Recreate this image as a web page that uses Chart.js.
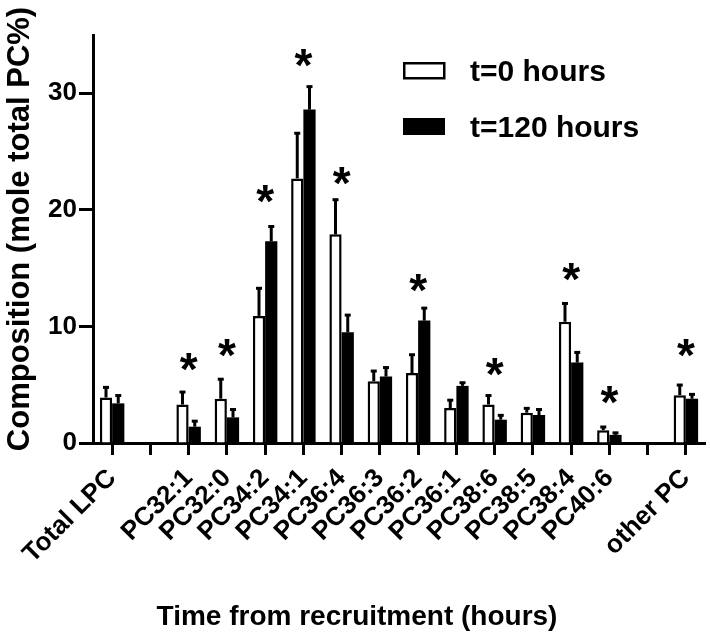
<!DOCTYPE html>
<html>
<head>
<meta charset="utf-8">
<script src="https://cdn.jsdelivr.net/npm/chart.js@4.4.1/dist/chart.umd.min.js"></script>
<style>
  body { margin: 0; background: #fff; }
  #wrap { width: 710px; height: 637px; position: relative; }
</style>
</head>
<body>
<div id="wrap"><canvas id="chart"></canvas></div>
<script>
// categories ('' = empty slot on the axis)
const categories = ['Total LPC', '', 'PC32:1', 'PC32:0', 'PC34:2', 'PC34:1', 'PC36:4', 'PC36:3',
    'PC36:2', 'PC36:1', 'PC38:6', 'PC38:5', 'PC38:4', 'PC40:6', '', 'other PC'];

// t=0 hours
const t0Values = [3.9, null, 3.3, 3.8, 10.9, 22.7, 17.9, 5.3, 6.0, 3.0, 3.3, 2.6, 10.4, 1.1, null, 4.1];
const t0Errors = [1.0, null, 1.2, 1.8, 2.5, 4.0, 3.1, 1.0, 1.7, 0.8, 0.9, 0.5, 1.7, 0.4, null, 1.0];

// t=120 hours
const t120Values = [3.4, null, 1.4, 2.2, 17.3, 28.6, 9.5, 5.7, 10.5, 4.9, 2.0, 2.4, 6.9, 0.7, null, 3.8];
const t120Errors = [0.8, null, 0.6, 0.8, 1.4, 2.1, 1.6, 0.9, 1.2, 0.4, 0.5, 0.6, 1.0, 0.3, null, 0.5];

// significance marks (y value of the asterisk centre)
const starLevels = [null, null, 6.95, 8.15, 21.4, 33.0, 22.9, null, 13.75, null, 6.55, null, 14.7, 4.1, null, 8.15];

const yTicks = [0, 10, 20, 30];

const FONT = "'Liberation Sans', Arial, sans-serif";

// error bars, asterisks, legend and axis titles
const extras = {
    id: 'extras',
    afterDatasetsDraw(chart) {
        const ctx = chart.ctx;
        const y = chart.scales.y;
        const x = chart.scales.x;
        ctx.save();
        ctx.strokeStyle = '#000';
        ctx.fillStyle = '#000';

        [[0, t0Errors], [1, t120Errors]].forEach(([di, errs]) => {
            const meta = chart.getDatasetMeta(di);
            const vals = chart.data.datasets[di].data;
            meta.data.forEach((bar, i) => {
                if (errs[i] == null || vals[i] == null) return;
                const top = y.getPixelForValue(vals[i] + errs[i]);
                ctx.lineWidth = 3;
                ctx.beginPath();
                ctx.moveTo(bar.x, bar.y);
                ctx.lineTo(bar.x, top + 1);
                ctx.stroke();
                ctx.fillRect(bar.x - 3, top, 6, 3);
            });
        });

        // asterisks
        ctx.font = 'bold 46px ' + FONT;
        ctx.textAlign = 'center';
        ctx.textBaseline = 'alphabetic';
        const m = ctx.measureText('*');
        const off = (m.actualBoundingBoxAscent - m.actualBoundingBoxDescent) / 2;
        starLevels.forEach((v, i) => {
            if (v == null) return;
            ctx.fillText('*', x.getPixelForValue(i), y.getPixelForValue(v) + off);
        });

        // legend
        ctx.lineWidth = 2.5;
        ctx.fillStyle = '#fff';
        ctx.fillRect(404, 63, 40, 15);
        ctx.strokeRect(404.25, 63.25, 40, 15);
        ctx.fillStyle = '#000';
        ctx.fillRect(403, 118, 42, 17);
        ctx.font = 'bold 30px ' + FONT;
        ctx.textAlign = 'left';
        ctx.fillText('t=0 hours', 470, 81);
        ctx.fillText('t=120 hours', 470, 137);

        // axis titles
        ctx.textAlign = 'center';
        ctx.font = 'bold 28px ' + FONT;
        ctx.fillText('Time from recruitment (hours)', 357, 625);
        ctx.font = 'bold 31px ' + FONT;
        ctx.translate(29, 229);
        ctx.rotate(-Math.PI / 2);
        ctx.fillText('Composition (mole total PC%)', 0, 0);
        ctx.restore();
    }
};

Chart.defaults.font.family = FONT;
Chart.defaults.font.weight = 'bold';
Chart.defaults.color = '#000';

new Chart(document.getElementById('chart'), {
    type: 'bar',
    data: {
        labels: categories,
        datasets: [
            {
                label: 't=0 hours',
                data: t0Values,
                backgroundColor: '#fff',
                borderColor: '#000',
                borderWidth: 2.5,
                categoryPercentage: 0.64,
                barPercentage: 1.0
            },
            {
                label: 't=120 hours',
                data: t120Values,
                backgroundColor: '#000',
                borderWidth: 0,
                categoryPercentage: 0.64,
                barPercentage: 1.0
            }
        ]
    },
    options: {
        responsive: true,
        maintainAspectRatio: false,
        animation: false,
        layout: { padding: { top: 35, right: 5, left: 0, bottom: 0 } },
        plugins: {
            legend: { display: false },
            tooltip: { enabled: false }
        },
        scales: {
            x: {
                afterFit: s => { s.height = 194; s.paddingLeft = 0; s.paddingRight = 0; },
                grid: { offset: false, drawOnChartArea: false, tickLength: 12, tickWidth: 3, tickColor: '#000' },
                border: { color: '#000', width: 3 },
                ticks: {
                    autoSkip: false,
                    minRotation: 45,
                    maxRotation: 45,
                    padding: 8,
                    font: { size: 26, weight: 'bold' }
                }
            },
            y: {
                min: 0,
                max: 35,
                afterFit: s => { s.width = 93; s.paddingTop = 0; s.paddingBottom = 0; },
                afterBuildTicks: s => { s.ticks = yTicks.map(v => ({ value: v })); },
                grid: { drawOnChartArea: false, tickLength: 14, tickWidth: 3, tickColor: '#000' },
                border: { color: '#000', width: 3 },
                ticks: {
                    padding: 2,
                    font: { size: 26, weight: 'bold' }
                }
            }
        }
    },
    plugins: [extras]
});
</script>
</body>
</html>
